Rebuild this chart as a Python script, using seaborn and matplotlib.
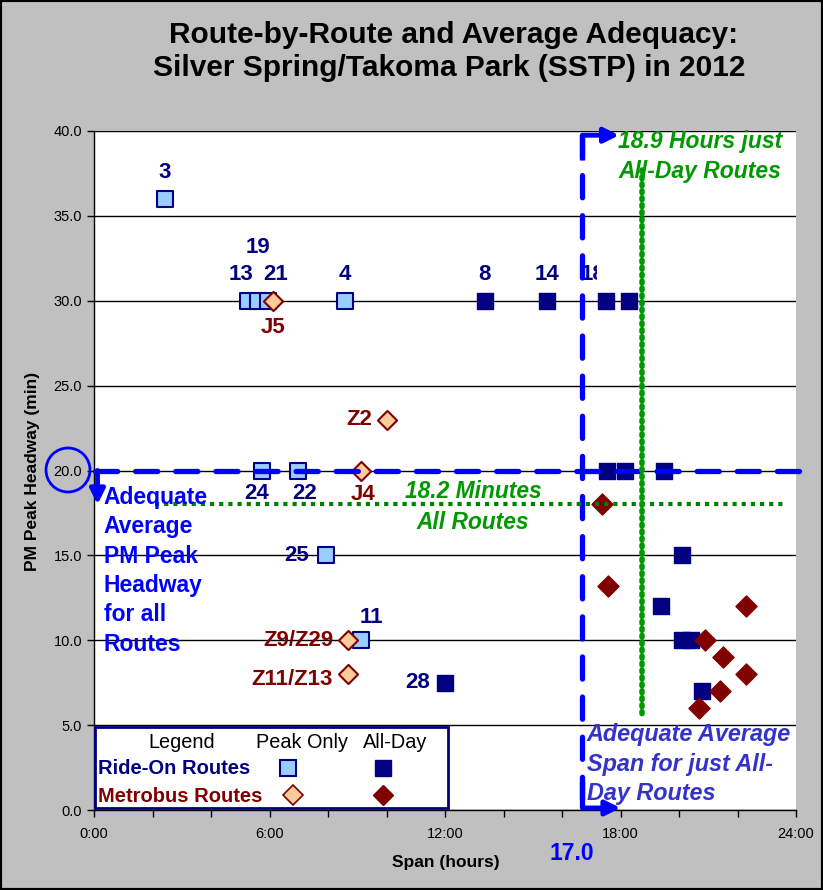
import numpy as np
import pandas as pd
import matplotlib
matplotlib.use('Agg')
import matplotlib.pyplot as plt
import seaborn as sns
from matplotlib.patches import Rectangle, Ellipse
from matplotlib.ticker import MultipleLocator, FuncFormatter

# ── Styling ──────────────────────────────────────
sns.set_theme(style='white')
plt.rcParams['font.family'] = ['Liberation Sans', 'DejaVu Sans']
plt.rcParams.update({'text.color': 'black', 'axes.labelcolor': 'black',
                     'xtick.color': 'black', 'ytick.color': 'black'})

NAVY = '#000080'
DKRED = '#800000'
LTBLUE = '#99ccff'
PEACH = '#ffcc99'
BLUE = '#0000ff'
GREEN = '#009900'

# ── Data (span in hours, PM peak headway in minutes) ──
rideon_peak_routes = ['3', '13', '19', '21', '4', '24', '22', '25', '11']
rideon_peak_span = [2.43, 5.25, 5.6, 5.95, 8.58, 5.74, 6.97, 7.93, 9.12]
rideon_peak_headway = [36, 30, 30, 30, 30, 20, 20, 15, 10]

rideon_allday_routes = ['8', '14', '18', '', '28', '', '', '', '', '', '', '', '']
rideon_allday_span = [13.36, 15.5, 17.5, 18.3, 12.0, 17.53, 18.15, 19.48, 20.1, 19.4, 20.1, 20.4, 20.78]
rideon_allday_headway = [30, 30, 30, 30, 7.5, 20, 20, 20, 15, 12, 10, 10, 7]

metro_peak_routes = ['J5', 'Z2', 'J4', 'Z9/Z29', 'Z11/Z13']
metro_peak_span = [6.12, 10.0, 9.12, 8.68, 8.7]
metro_peak_headway = [30, 23, 20, 10, 8]

metro_allday_span = [17.36, 17.57, 22.3, 20.9, 21.5, 22.3, 21.4, 20.7]
metro_allday_headway = [18, 13.2, 12, 10, 9, 8, 7, 6]

# reference levels
adequate_headway = 20.0
adequate_span = 16.7
avg_headway_all = 18.05
avg_span_allday = 18.75

# label offsets in pixels (dx, dy, ha)
rideon_peak_offsets = [(0, 26, 'center'), (-7, 26, 'center'), (0, 53, 'center'), (8, 26, 'center'),
                       (0, 26, 'center'), (-5, -23, 'center'), (7, -23, 'center'), (-17, 0, 'right'),
                       (11, 23, 'center')]
rideon_allday_offsets = [(0, 26, 'center'), (0, 26, 'center'), (-13, 26, 'center'), None, (-15, 0, 'right')]
metro_peak_offsets = [(0, -27, 'center'), (-14, 0, 'right'), (2, -24, 'center'), (-14, 0, 'right'),
                      (-16, -5, 'right')]

# ── Figure ───────────────────────────────────────
fig = plt.figure(figsize=(8.23, 8.90), dpi=100)
fig.patch.set_facecolor('#c0c0c0')
fig.patches.append(Rectangle((0, 0), 1, 1, transform=fig.transFigure, fill=False,
                             edgecolor='black', lw=3, zorder=0))
ax = fig.add_axes([94 / 823, 1 - 810 / 890, (796 - 94) / 823, (810 - 131) / 890])
ax.set_facecolor('white')

sns.scatterplot(x=rideon_peak_span, y=rideon_peak_headway, marker='s', s=140,
                color=LTBLUE, edgecolor=NAVY, linewidth=1.5, ax=ax, zorder=3)
sns.scatterplot(x=rideon_allday_span, y=rideon_allday_headway, marker='s', s=140,
                color=NAVY, edgecolor=NAVY, linewidth=1, ax=ax, zorder=3)
sns.scatterplot(x=metro_peak_span, y=metro_peak_headway, marker='D', s=95,
                color=PEACH, edgecolor=DKRED, linewidth=1.5, ax=ax, zorder=3)
sns.scatterplot(x=metro_allday_span, y=metro_allday_headway, marker='D', s=115,
                color=DKRED, edgecolor=DKRED, linewidth=1, ax=ax, zorder=3)

lbl = dict(textcoords='offset pixels', fontsize=16, fontweight='bold', va='center', zorder=4)
for r, x, y, off in zip(rideon_peak_routes, rideon_peak_span, rideon_peak_headway, rideon_peak_offsets):
    ax.annotate(r, (x, y), xytext=off[:2], ha=off[2], color=NAVY, **lbl)
for r, x, y, off in zip(rideon_allday_routes, rideon_allday_span, rideon_allday_headway, rideon_allday_offsets):
    if off is None or not r:
        continue
    t = ax.annotate(r, (x, y), xytext=off[:2], ha=off[2], color=NAVY, **lbl)
    if r == '18':
        clip = Rectangle((0, 0), 17.2, 40, transform=ax.transData)
        t.set_clip_path(clip)
for r, x, y, off in zip(metro_peak_routes, metro_peak_span, metro_peak_headway, metro_peak_offsets):
    ax.annotate(r, (x, y), xytext=off[:2], ha=off[2], color=DKRED, **lbl)

# ── Reference lines ──────────────────────────────
ax.plot([0.05, 24.25], [adequate_headway] * 2, color=BLUE, lw=3.8, dashes=(4.2, 3.4),
        dash_capstyle='round', zorder=5, clip_on=False)
ax.plot([adequate_span] * 2, [39.75, 0.12], color=BLUE, lw=3.8, dashes=(4.2, 3.4),
        dash_capstyle='round', zorder=5, clip_on=False)
ax.plot([2.08, 23.55], [avg_headway_all] * 2, color='#008000', lw=3, dashes=(1, 1.2),
        zorder=5)
ax.plot([avg_span_allday] * 2, [37.7, 5.6], color=GREEN, lw=4, dashes=(0.35, 0.9),
        dash_capstyle='round', zorder=5)

arr = dict(arrowstyle='-|>', color=BLUE, lw=3.5, mutation_scale=22, shrinkA=0, shrinkB=0)
ax.annotate('', xy=(17.95, 39.75), xytext=(adequate_span, 39.75), arrowprops=arr,
            annotation_clip=False, zorder=6)
ax.annotate('', xy=(18.0, 0.12), xytext=(adequate_span, 0.12), arrowprops=arr,
            annotation_clip=False, zorder=6)
ax.plot([adequate_span] * 2, [1.7, 0.12], color=BLUE, lw=3.8, solid_capstyle='butt', zorder=6, clip_on=False)
ax.plot([adequate_span] * 2, [39.75, 38.3], color=BLUE, lw=3.8, solid_capstyle='butt', zorder=6, clip_on=False)
ax.annotate('', xy=(0.12, 18.0), xytext=(0.12, adequate_headway), arrowprops=arr,
            annotation_clip=False, zorder=6)

# ── Annotations ──────────────────────────────────
ax.text(20.72, 38.5, '18.9 Hours just\nAll-Day Routes', color=GREEN, fontsize=16.5,
        fontweight='bold', style='italic', ha='center', va='center', linespacing=1.42, zorder=6)
ax.text(12.96, 17.86, '18.2 Minutes\nAll Routes', color=GREEN, fontsize=16.4,
        fontweight='bold', style='italic', ha='center', va='center', linespacing=1.42, zorder=6)
ax.text(0.33, 19.1, 'Adequate\nAverage\nPM Peak\nHeadway\nfor all\nRoutes', color=BLUE,
        fontsize=16.5, fontweight='bold', ha='left', va='top', linespacing=1.355, zorder=6)
ax.text(16.85, 5.1, 'Adequate Average\nSpan for just All-\nDay Routes', color='#3333cc',
        fontsize=16.8, fontweight='bold', style='italic', ha='left', va='top',
        linespacing=1.34, zorder=6)

# ── Legend box ───────────────────────────────────
ax.add_patch(Rectangle((0.02, 0.12), 12.08, 4.78, facecolor='white', edgecolor=NAVY,
                       lw=2, zorder=7, clip_on=False))
ax.text(3.0, 3.95, 'Legend', fontsize=14.3, ha='center', va='center', zorder=8)
ax.text(7.1, 3.95, 'Peak Only', fontsize=14.3, ha='center', va='center', zorder=8)
ax.text(10.3, 3.95, 'All-Day', fontsize=14.3, ha='center', va='center', zorder=8)
ax.text(0.12, 2.47, 'Ride-On Routes', fontsize=14.5, fontweight='bold', ha='left',
        va='center', color=NAVY, zorder=8)
ax.text(0.12, 0.77, 'Metrobus Routes', fontsize=14.5, fontweight='bold', ha='left',
        va='center', color=DKRED, zorder=8)
ax.plot([6.63], [2.45], marker='s', ms=11, mfc=LTBLUE, mec=NAVY, mew=1.5, zorder=8)
ax.plot([9.87], [2.45], marker='s', ms=11, mfc=NAVY, mec=NAVY, zorder=8)
ax.plot([6.8], [0.88], marker='D', ms=10, mfc=PEACH, mec=DKRED, mew=1.2, zorder=8)
ax.plot([9.87], [0.88], marker='D', ms=10, mfc=DKRED, mec=DKRED, zorder=8)

# ── Axes ─────────────────────────────────────────
ax.set_xlim(0, 24)
ax.set_ylim(0, 40)
ax.xaxis.set_major_locator(MultipleLocator(6))
ax.xaxis.set_minor_locator(MultipleLocator(2))
ax.yaxis.set_major_locator(MultipleLocator(5))
ax.xaxis.set_major_formatter(FuncFormatter(lambda v, p: f'{int(v)}:00'))
ax.yaxis.set_major_formatter(FuncFormatter(lambda v, p: f'{v:.1f}'))
ax.tick_params(axis='both', which='both', direction='out', length=5, width=1, colors='black',
               labelsize=10.5, bottom=True, left=True)
ax.tick_params(axis='x', pad=7)
ax.grid(True, axis='y', color='black', lw=1)
ax.grid(False, axis='x')
ax.set_axisbelow(True)
for side in ['top', 'right']:
    ax.spines[side].set_visible(False)
for side in ['left', 'bottom']:
    ax.spines[side].set_color('black')
    ax.spines[side].set_linewidth(1)

# circle around 20.0
fig.patches.append(Ellipse((68 / 823, 1 - 470 / 890), 44 / 823, 44 / 890,
                           transform=fig.transFigure, fill=False, edgecolor=BLUE, lw=2, zorder=10))

# ── Titles and labels ────────────────────────────
fig.text(454 / 823, 1 - 43 / 890, 'Route-by-Route and Average Adequacy:',
         ha='center', va='baseline', fontsize=21.5, fontweight='bold')
fig.text(449 / 823, 1 - 76 / 890, 'Silver Spring/Takoma Park (SSTP) in 2012',
         ha='center', va='baseline', fontsize=21.5, fontweight='bold')
fig.text(33 / 823, 1 - 471 / 890, 'PM Peak Headway (min)', rotation=90, ha='center',
         va='center', fontsize=12.5, fontweight='bold')
fig.text(446 / 823, 1 - 862 / 890, 'Span (hours)', ha='center', va='center',
         fontsize=12.5, fontweight='bold')
fig.text(572 / 823, 1 - 853 / 890, '17.0', ha='center', va='center', fontsize=16.5,
         fontweight='bold', color=BLUE)

fig.savefig('out.png', dpi=100, facecolor=fig.get_facecolor())
